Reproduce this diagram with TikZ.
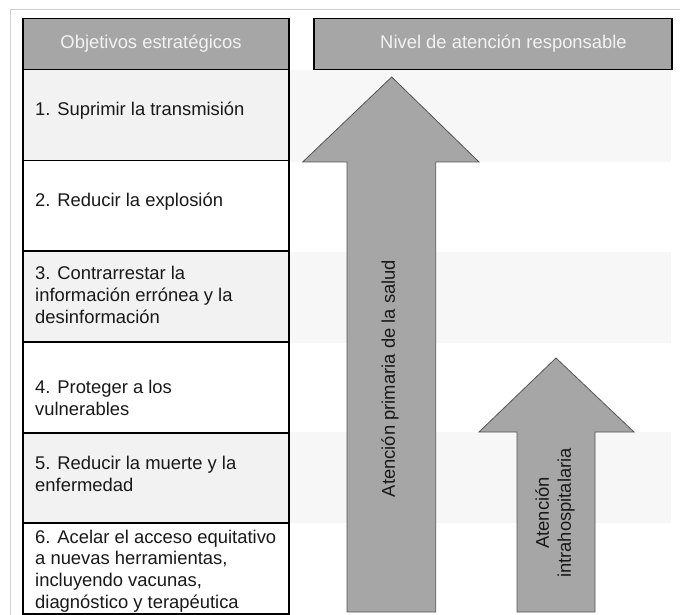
\documentclass[tikz,border=0pt]{standalone}
\usepackage{fontspec}
\setmainfont{Liberation Sans}
\definecolor{hdrgray}{HTML}{A6A6A6}
\definecolor{hdrtext}{HTML}{F2F2F2}
\definecolor{rowgray}{HTML}{F2F2F2}
\definecolor{bandgray}{HTML}{F7F7F7}
\definecolor{framegray}{HTML}{D0D0D0}
\definecolor{arrowline}{HTML}{555555}
\begin{document}
\begin{tikzpicture}[x=1pt,y=-1pt,
  txt/.style={font=\fontsize{18.4}{21.8}\selectfont, inner sep=0pt, align=left, anchor=west, text=black!90},
  hdrtxt/.style={font=\fontsize{18.4}{21.8}\selectfont, inner sep=0pt, text=hdrtext},
  cell/.style={draw=black, line width=1.5pt, minimum width=266pt, anchor=north west, inner sep=0pt},
  band/.style={fill=bandgray, draw=none},
  bigarrow/.style={fill=hdrgray, draw=arrowline, line width=0.8pt, line join=miter},
  rottxt/.style={font=\fontsize{18.4}{21.8}\selectfont, inner sep=0pt, align=center, rotate=90, text=black!90}]
\useasboundingbox (0,0) rectangle (680,615);
% outer frame
\draw[framegray, line width=1.5pt] (10,9.5) -- (680,9.5);
\draw[framegray, line width=1.5pt] (10.5,9) -- (10.5,615);
% right bands
\fill[band] (288,70) rectangle (671,162);
\fill[band] (288,252) rectangle (671,343);
\fill[band] (288,432) rectangle (671,523);
% arrows
\draw[bigarrow] (391.7,77) -- (479,162) -- (435.7,162) -- (435.7,612) -- (347,612) -- (347,162) -- (302.7,162) -- cycle;
\draw[bigarrow] (556,358) -- (634,432) -- (595,432) -- (595,612) -- (517,612) -- (517,432) -- (479,432) -- cycle;
\node[rottxt] (apt) at (390,378.5) {Atención primaria de la salud};
\node[rottxt] (aih) at (555,513) {Atención\\intrahospitalaria};
% left table
\node[cell, fill=hdrgray, minimum height=51pt] (h1) at (22,18) {};
\node[hdrtxt] (h1t) at (151,43.5) {Objetivos estratégicos};
\node[cell, fill=rowgray, minimum height=91pt] (r1) at (22,69) {};
\node[cell, fill=white, minimum height=90pt] (r2) at (22,160) {};
\node[cell, fill=rowgray, minimum height=91pt] (r3) at (22,250) {};
\node[cell, fill=white, minimum height=91pt] (r4) at (22,341) {};
\node[cell, fill=rowgray, minimum height=90pt] (r5) at (22,432) {};
\node[cell, fill=white, minimum height=91pt] (r6) at (22,522) {};
\node[txt] (t1) at (35,111) {1. Suprimir la transmisión};
\node[txt] (t2) at (35,202) {2. Reducir la explosión};
\node[txt] (t3) at (35,295) {3. Contrarrestar la\\información errónea y la\\desinformación};
\node[txt] (t4) at (35,398) {4. Proteger a los\\vulnerables};
\node[txt] (t5) at (35,474) {5. Reducir la muerte y la\\enfermedad};
\node[txt] (t6) at (35,571) {6. Acelar el acceso equitativo\\a nuevas herramientas,\\incluyendo vacunas,\\diagnóstico y terapéutica};
% right header
\node[draw=black, line width=1.5pt, fill=hdrgray, minimum width=358pt, minimum height=51pt, anchor=north west, inner sep=0pt] (h2) at (313,18) {};
\node[hdrtxt] (h2t) at (503.5,43.5) {Nivel de atención responsable};
\end{tikzpicture}
\end{document}
